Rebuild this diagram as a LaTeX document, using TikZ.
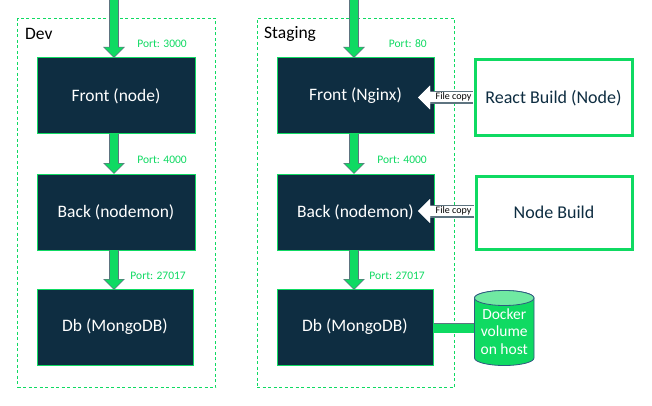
\documentclass[tikz,border=0pt]{standalone}
\usepackage{fontspec}
\setmainfont{Carlito}
\usetikzlibrary{arrows.meta}
\definecolor{navy}{HTML}{0E2D41}
\definecolor{grn}{HTML}{0FDA62}
\definecolor{grn2}{HTML}{70E9A2}
\definecolor{edgeg}{HTML}{5E7480}
\definecolor{rim}{HTML}{2F5A80}
\tikzset{
  darkbox/.style={draw=grn,line width=1pt,fill=navy,text=white,font=\fontsize{17.5}{20}\selectfont,minimum width=158pt,minimum height=76pt,inner sep=0pt},
  buildbox/.style={draw=grn,line width=3pt,fill=white,text=navy,font=\fontsize{18}{21}\selectfont,inner sep=0pt},
  zone/.style={draw=grn,line width=0.8pt,dash pattern=on 3pt off 2.5pt},
  zonelabel/.style={anchor=west,inner sep=0pt,font=\fontsize{17.5}{20}\selectfont},
  portlabel/.style={anchor=east,inner sep=0pt,text=grn,font=\fontsize{11.5}{13}\selectfont},
  flowedge/.style={draw=edgeg,line width=10.5pt,-{Triangle[length=11pt,width=21pt,color=edgeg]}},
  flowcore/.style={draw=grn,line width=8.5pt,shorten >=1pt,-{Triangle[length=9.5pt,width=18pt,color=grn]}},
  copyedge/.style={draw=edgeg,line width=13pt,-{Triangle[length=12pt,width=23pt,color=white]}},
  copycore/.style={draw=white,line width=10pt,-{Triangle[length=12pt,width=23pt,color=white]}},
  copylabel/.style={inner sep=0.5pt,text=black,font=\fontsize{10}{11}\selectfont},
  voltext/.style={align=center,inner sep=0pt,text=white,font=\fontsize{15.5}{17.5}\selectfont},
}
\newcommand{\flowarrow}[2]{\draw[flowedge] (#1) -- (#2);\draw[flowcore] (#1) -- (#2);}
\newcommand{\copyarrow}[2]{\draw[copyedge] (#1) -- (#2);\draw[copycore] (#1) -- (#2);}
\begin{document}
\begin{tikzpicture}[x=1pt,y=-1pt]
\useasboundingbox (0,0) rectangle (652,406);
\clip (0,0) rectangle (652,406);
\fill[white] (0,0) rectangle (652,406);
% zones
\node[zone,minimum width=198pt,minimum height=369pt,inner sep=0pt] (devzone) at (116.5,203) {};
\node[zone,minimum width=197pt,minimum height=369pt,inner sep=0pt] (stagezone) at (355.5,203) {};
\node[zonelabel] (devlabel) at (25,33.5) {Dev};
\node[zonelabel] (stagelabel) at (264,33.5) {Staging};
% boxes
\node[darkbox] (df) at (116,96) {Front (node)};
\node[darkbox] (db) at (116,212) {Back (nodemon)};
\node[darkbox,minimum width=156pt] (dd) at (115,327) {Db (MongoDB)};
\node[darkbox,minimum width=157pt] (sf) at (355.5,96) {Front (Nginx)};
\node[darkbox,minimum width=157pt] (sb) at (355.5,212) {Back (nodemon)};
\node[darkbox,minimum width=156pt] (sd) at (355,327) {Db (MongoDB)};
\node[buildbox,minimum width=157pt,minimum height=76pt] (react) at (553.5,98) {React Build (Node)};
\node[buildbox,minimum width=156pt,minimum height=73pt] (nodeb) at (554,212.5) {Node Build};
% arrows
\coordinate (din) at (114,-5);
\coordinate (sin) at (354,-5);
\coordinate (dft) at (114,58);
\coordinate (dbt) at (114,174);
\coordinate (dbb) at (114,134);
\coordinate (ddt) at (114,290);
\coordinate (ddb) at (114,250);
\coordinate (sft) at (354,58);
\coordinate (sbt) at (354,174);
\coordinate (sbb) at (354,134);
\coordinate (sdt) at (354,290);
\coordinate (sdb) at (354,250);
\flowarrow{din}{dft}
\flowarrow{dbb}{dbt}
\flowarrow{ddb}{ddt}
\flowarrow{sin}{sft}
\flowarrow{sbb}{sbt}
\flowarrow{sdb}{sdt}
% file copies
\coordinate (ftip) at (418,97.5);
\coordinate (fstart) at (473,97.5);
\coordinate (btip) at (418,211);
\coordinate (bstart) at (474,211);
\copyarrow{fstart}{ftip}
\copyarrow{bstart}{btip}
\node[copylabel] (fc1) at (453.5,97) {File copy};
\node[copylabel] (fc2) at (453.5,210.5) {File copy};
% volume
\coordinate (vs) at (434,328);
\coordinate (ve) at (476,328);
\draw[edgeg,line width=10.5pt] (vs) -- (ve);
\draw[grn,line width=8.5pt] ([yshift=-0.7pt]vs) -- ([yshift=-0.7pt]ve);
\path[fill=grn,draw=rim,line width=0.8pt] (474.5,298) -- (474.5,358) arc[start angle=180,end angle=360,x radius=29.75,y radius=-7.5] -- (534,298) arc[start angle=0,end angle=180,x radius=29.75,y radius=-7.5] -- cycle;
\path[fill=grn2,draw=rim,line width=0.8pt] (504.25,298) ellipse[x radius=29.75,y radius=7.5];
\node[voltext] (vol) at (504.25,331.5) {Docker\\volume\\on host};
% ports
\node[portlabel] (p1) at (187,44) {Port: 3000};
\node[portlabel] (p2) at (187,160) {Port: 4000};
\node[portlabel] (p3) at (186,276) {Port: 27017};
\node[portlabel] (p4) at (427,44) {Port: 80};
\node[portlabel] (p5) at (427,160) {Port: 4000};
\node[portlabel] (p6) at (425,276) {Port: 27017};
\end{tikzpicture}
\end{document}
